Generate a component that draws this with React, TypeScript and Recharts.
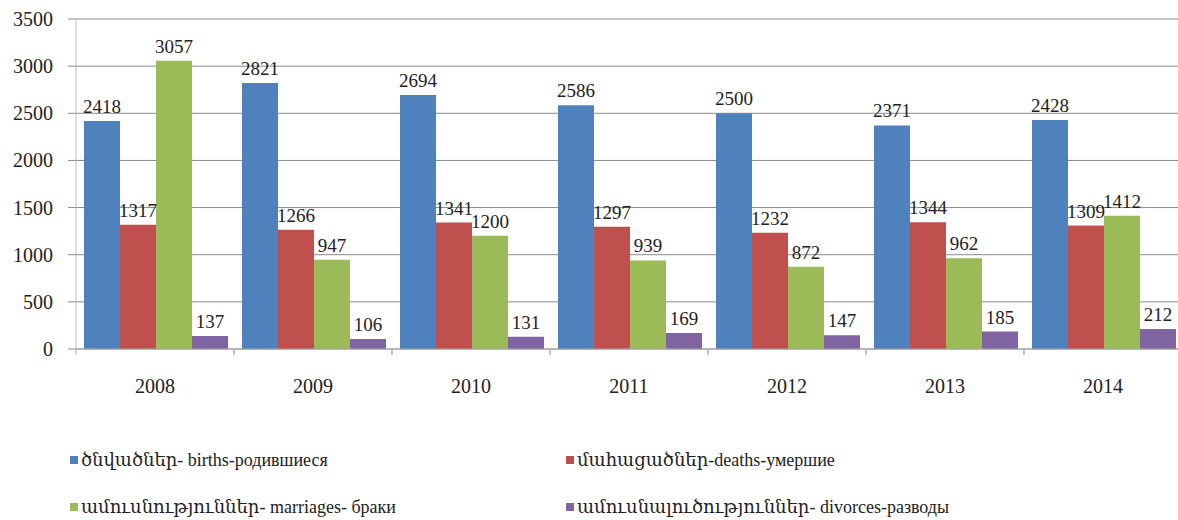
import React from 'react';
import { BarChart, Bar, XAxis, YAxis, CartesianGrid, LabelList } from 'recharts';

const years = ['2008', '2009', '2010', '2011', '2012', '2013', '2014'];
const births = [2418, 2821, 2694, 2586, 2500, 2371, 2428];
const deaths = [1317, 1266, 1341, 1297, 1232, 1344, 1309];
const marriages = [3057, 947, 1200, 939, 872, 962, 1412];
const divorces = [137, 106, 131, 169, 147, 185, 212];
const yTicks = [0, 500, 1000, 1500, 2000, 2500, 3000, 3500];

const seriesNames = [
  'ծնվածներ- births-родившиеся',
  'մահացածներ-deaths-умершие',
  'ամուսնություններ- marriages- браки',
  'ամուսնալուծություններ- divorces-разводы',
];
const seriesColors = ['#4F81BD', '#C0504D', '#9BBB59', '#8064A2'];
const seriesKeys = ['births', 'deaths', 'marriages', 'divorces'];

const data = years.map((year, i) => ({
  year,
  births: births[i],
  deaths: deaths[i],
  marriages: marriages[i],
  divorces: divorces[i],
}));

const FONT = 'Liberation Serif, DejaVu Serif, serif';

// x tick: year label + little tick marks on the band edges
function YearTick(props: any) {
  const { x, y, payload } = props;
  const half = payload.offset || 0;
  return (
    <g>
      <line x1={x - half} y1={y} x2={x - half} y2={y + 6} stroke="#b0b0b0" />
      <line x1={x + half} y1={y} x2={x + half} y2={y + 6} stroke="#b0b0b0" />
      <text x={x} y={y + 44} textAnchor="middle" fill="#222" fontFamily={FONT} fontSize={20}>
        {payload.value}
      </text>
    </g>
  );
}

function ValueTick(props: any) {
  const { x, y, payload } = props;
  return (
    <text x={x} y={y + 7} textAnchor="end" fill="#222" fontFamily={FONT} fontSize={20}>
      {payload.value}
    </text>
  );
}

function BarValue(props: any) {
  const { x, y, width, value } = props;
  return (
    <text x={x + width / 2} y={y - 8} textAnchor="middle" fill="#222" fontFamily={FONT} fontSize={19}>
      {value}
    </text>
  );
}

export default function App() {
  return (
    <div style={{ position: 'absolute', left: 0, top: 0, width: 1178, height: 520, overflow: 'hidden', background: '#fff', fontFamily: FONT }}>
      <BarChart
        width={1200}
        height={520}
        data={data}
        margin={{ top: 19, right: 18, bottom: 111, left: 0 }}
        barCategoryGap={8}
        barGap={0}
      >
        <CartesianGrid vertical={false} stroke="#8a8a8a" />
        <XAxis
          dataKey="year"
          height={60}
          tickLine={false}
          tickSize={0}
          tickMargin={0}
          axisLine={{ stroke: '#a6a6a6' }}
          tick={<YearTick />}
          interval={0}
        />
        <YAxis
          width={76}
          domain={[0, 3500]}
          ticks={yTicks}
          interval={0}
          tickSize={8}
          tickMargin={15}
          tickLine={{ stroke: '#8a8a8a' }}
          axisLine={{ stroke: '#c0c0c0' }}
          tick={<ValueTick />}
        />
        {seriesKeys.map((key, i) => (
          <Bar key={key} dataKey={key} name={seriesNames[i]} fill={seriesColors[i]} isAnimationActive={false}>
            <LabelList dataKey={key} content={<BarValue />} />
          </Bar>
        ))}
      </BarChart>
      {seriesNames.map((name, i) => (
        <div
          key={name}
          style={{
            position: 'absolute',
            left: i % 2 === 1 ? 566 : 70,
            top: i < 2 ? 449 : 496,
            display: 'flex',
            alignItems: 'center',
            fontFamily: FONT,
            fontSize: 18,
            lineHeight: '22px',
            color: '#222',
            whiteSpace: 'nowrap',
          }}
        >
          <span style={{ width: 8, height: 8, background: seriesColors[i], marginRight: 3, display: 'inline-block' }} />
          {name}
        </div>
      ))}
    </div>
  );
}
